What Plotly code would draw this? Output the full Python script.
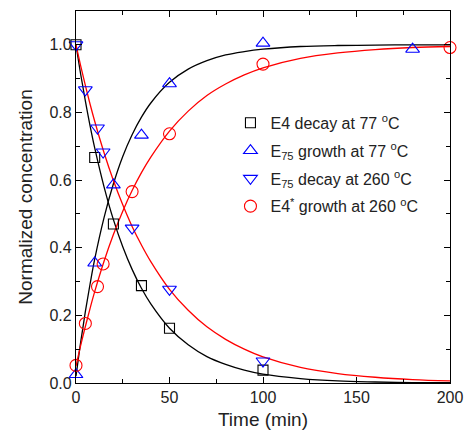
import plotly.graph_objects as go

# ---- measured data points ----
t_e4_decay = [0, 10, 20, 35, 50, 100]
y_e4_decay = [1.0, 0.667, 0.470, 0.288, 0.162, 0.038]

t_e75_growth = [0, 10, 20, 35, 50, 100, 180]
y_e75_growth = [0.025, 0.355, 0.586, 0.733, 0.885, 1.005, 0.987]

t_e75_decay = [0, 5, 11.5, 14.5, 30, 50, 100]
y_e75_decay = [1.0, 0.867, 0.754, 0.683, 0.458, 0.277, 0.065]

t_e4s_growth = [0, 5, 11.5, 14.5, 30, 50, 100, 200]
y_e4s_growth = [0.052, 0.176, 0.285, 0.352, 0.566, 0.737, 0.943, 0.992]

# ---- fitted curves ----
t_fit = [0, 2.5, 5, 7.5, 10, 15, 20, 25, 30, 35, 40, 50, 60, 70, 80, 90,
         100, 120, 140, 160, 180, 200]
fit_black_decay = [1.0, 0.913, 0.834, 0.761, 0.695, 0.580, 0.483, 0.403, 0.336,
                   0.280, 0.234, 0.162, 0.113, 0.078, 0.055, 0.038, 0.026,
                   0.013, 0.006, 0.003, 0.001, 0.001]
fit_black_growth = [0.02, 0.121, 0.211, 0.292, 0.366, 0.489, 0.589, 0.670, 0.734,
                    0.786, 0.828, 0.889, 0.928, 0.953, 0.970, 0.980, 0.987,
                    0.995, 0.998, 0.999, 1.0, 1.0]
fit_red_decay = [1.0, 0.938, 0.880, 0.825, 0.774, 0.681, 0.599, 0.527, 0.463,
                 0.408, 0.359, 0.277, 0.215, 0.166, 0.129, 0.100, 0.077,
                 0.046, 0.028, 0.017, 0.010, 0.006]
fit_red_growth = [0.05, 0.111, 0.167, 0.220, 0.270, 0.360, 0.439, 0.508, 0.569,
                  0.622, 0.668, 0.745, 0.804, 0.850, 0.884, 0.911, 0.932,
                  0.960, 0.976, 0.986, 0.992, 0.995]

names = [
    "E4 decay at 77 <sup>o</sup>C",
    "E<sub>75</sub> growth at 77 <sup>o</sup>C",
    "E<sub>75</sub> decay at 260 <sup>o</sup>C",
    "E4<sup>*</sup> growth at 260 <sup>o</sup>C",
]

BLACK = "#000000"
RED = "#ff0000"
BLUE = "#0000ff"
FONT = "Liberation Sans, Arial, sans-serif"

fig = go.Figure()

for yv, col in [(fit_black_decay, BLACK), (fit_black_growth, BLACK),
                (fit_red_decay, RED), (fit_red_growth, RED)]:
    fig.add_trace(go.Scatter(x=t_fit, y=yv, mode="lines",
                             line=dict(color=col, width=1.3, shape="spline"),
                             showlegend=False, hoverinfo="skip"))

marker_sets = [
    (t_e4_decay, y_e4_decay, "square-open", BLACK, 10),
    (t_e75_growth, y_e75_growth, "triangle-up-open", BLUE, 12),
    (t_e75_decay, y_e75_decay, "triangle-down-open", BLUE, 12),
    (t_e4s_growth, y_e4s_growth, "circle-open", RED, 12),
]
for i, (xs, ys, sym, col, sz) in enumerate(marker_sets):
    fig.add_trace(go.Scatter(
        x=xs, y=ys, mode="markers", name=names[i], legendgroup=f"g{i}",
        marker=dict(symbol=sym, size=sz, color=col, line=dict(color=col, width=1.1)),
        cliponaxis=False))

axis_common = dict(
    showline=True, linecolor="black", linewidth=1.3, mirror="ticks",
    ticks="inside", ticklen=6, tickwidth=1.2, tickcolor="black",
    showgrid=False, zeroline=False, automargin=False,
    tickfont=dict(family=FONT, size=16, color="#222"),
)

fig.update_xaxes(range=[0, 200], tickvals=[0, 50, 100, 150, 200],
                 minor=dict(dtick=25, ticks="inside", ticklen=4, tickcolor="black", tickwidth=1.1),
                 title=dict(text="Time (min)", standoff=7,
                            font=dict(family=FONT, size=19, color="#222")),
                 **axis_common)
fig.update_yaxes(range=[0, 1.1], tickvals=[0, 0.2, 0.4, 0.6, 0.8, 1.0],
                 tickformat=".1f",
                 minor=dict(dtick=0.1, ticks="inside", ticklen=4, tickcolor="black", tickwidth=1.1),
                 title=dict(text="Normalized concentration", standoff=11,
                            font=dict(family=FONT, size=19, color="#222")),
                 **axis_common)

fig.update_layout(
    width=467, height=433,
    margin=dict(l=76, r=17, t=11, b=50),
    paper_bgcolor="white", plot_bgcolor="white",
    legend=dict(x=0.413, y=0.745, xanchor="left", yanchor="top",
                bgcolor="rgba(0,0,0,0)", tracegroupgap=4,
                font=dict(family=FONT, size=16, color="#222")),
)

fig.write_html("out.html")
